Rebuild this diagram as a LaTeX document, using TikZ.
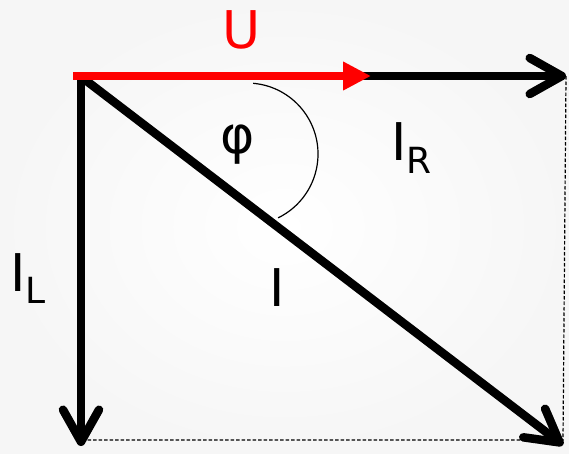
\documentclass[tikz,border=0pt]{standalone}
\usepackage{fontspec}
\setmainfont{DejaVu Sans}
\usetikzlibrary{arrows.meta}
\begin{document}
\begin{tikzpicture}[x=1pt,y=-1pt,
  vec/.style={line width=8.5pt, -{Straight Barb[length=32pt,width=36pt,round]}},
  vshadow/.style={vec, black, opacity=0.12, shift={(1.5,3)}},
  big/.style={font=\fontsize{52}{52}\selectfont, inner sep=0pt},
  guide/.style={dash pattern=on 3.5pt off 2pt, line width=1.2pt}]
\useasboundingbox (0,0) rectangle (569,453);
\shade[inner color=white, outer color=gray!7] (0,0) rectangle (569,453);
% points
\coordinate (O) at (81,76);
\coordinate (Os) at (84,79);
\coordinate (Ured) at (73,76);
\coordinate (Utip) at (371,76);
\coordinate (IRtip) at (566,76);
\coordinate (ILtip) at (81,446);
\coordinate (Itip) at (563,445);
\coordinate (C) at (563,440);
\coordinate (Lc) at (85,440);
\coordinate (A) at (253.2,83.3);
% guides
\draw[guide] (IRtip) -- (C) -- (Lc);
% shadows
\draw[vshadow] (O) -- (IRtip);
\draw[vshadow] (O) -- (ILtip);
\draw[vshadow] (Os) -- (Itip);
% vectors
\draw[vec] (O) -- (IRtip);
\draw[vec] (O) -- (ILtip);
\draw[vec] (Os) -- (Itip);
\draw[red, line width=8.5pt, -{Triangle[length=28pt,width=27pt]}] (Ured) -- (Utip);
% angle
\draw[line width=1.2pt] (A) arc[start angle=-85, end angle=64, radius=71];
% labels
\node[big, red, anchor=base] (U) at (242,48) {U};
\node[big, anchor=base] (phi) at (238,153) {φ};
\node[big, anchor=base] (I) at (277,306) {I};
\node[big, anchor=base west] (IR) at (391,160) {I{\fontsize{36}{36}\selectfont\raisebox{-13pt}{R}}};
\node[big, anchor=base west] (IL) at (10,291) {I{\fontsize{36}{36}\selectfont\raisebox{-12pt}{L}}};
\end{tikzpicture}
\end{document}
